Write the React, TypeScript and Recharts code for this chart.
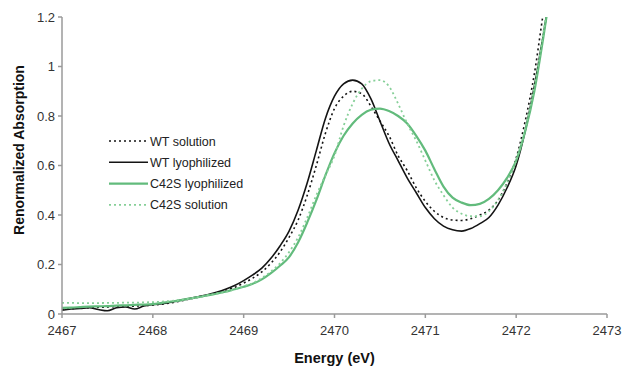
import React from 'react';
import { LineChart, Line, XAxis, YAxis, Legend } from 'recharts';

// energy grid (eV)
const energy: number[] = [
  2467.0, 2467.1, 2467.2, 2467.3, 2467.4, 2467.5, 2467.6, 2467.7, 2467.8, 2467.9,
  2468.0, 2468.1, 2468.2, 2468.3, 2468.4, 2468.5, 2468.6, 2468.7, 2468.8, 2468.9,
  2469.0, 2469.1, 2469.2, 2469.3, 2469.4, 2469.5, 2469.6, 2469.7, 2469.8, 2469.9,
  2470.0, 2470.1, 2470.2, 2470.3, 2470.4, 2470.5, 2470.6, 2470.7, 2470.8, 2470.9,
  2471.0, 2471.1, 2471.2, 2471.3, 2471.4, 2471.5, 2471.6, 2471.7, 2471.8, 2471.9,
  2472.0, 2472.1, 2472.2, 2472.3, 2472.4,
];

const wtSolution: number[] = [
  0.02, 0.022, 0.024, 0.026, 0.027, 0.028, 0.03, 0.031, 0.032, 0.034,
  0.036, 0.04, 0.045, 0.052, 0.06, 0.068, 0.076, 0.085, 0.095, 0.108,
  0.125, 0.145, 0.17, 0.205, 0.25, 0.31, 0.38, 0.48, 0.6, 0.73,
  0.83, 0.88, 0.9, 0.89, 0.84, 0.78, 0.72, 0.64, 0.58, 0.51,
  0.455, 0.415, 0.39, 0.38, 0.378, 0.385, 0.4, 0.42, 0.46, 0.53,
  0.63, 0.78, 0.97, 1.22, 1.45,
];

const wtLyophilized: number[] = [
  0.015, 0.02, 0.022, 0.025, 0.018, 0.013, 0.025, 0.028, 0.02, 0.032,
  0.038, 0.042, 0.048, 0.055, 0.062, 0.07, 0.078, 0.088, 0.1, 0.115,
  0.135, 0.158, 0.185, 0.225, 0.275, 0.335, 0.42, 0.53, 0.66, 0.79,
  0.88, 0.93, 0.945, 0.93, 0.87, 0.78, 0.69, 0.62, 0.55, 0.49,
  0.43, 0.385, 0.355, 0.34, 0.335, 0.345, 0.365, 0.39, 0.44, 0.51,
  0.6, 0.74, 0.92, 1.13, 1.35,
];

const c42sLyophilized: number[] = [
  0.025, 0.026, 0.028, 0.03, 0.031, 0.032, 0.034, 0.035, 0.037, 0.038,
  0.04, 0.045, 0.05, 0.055, 0.062, 0.068, 0.075, 0.082, 0.09, 0.1,
  0.11, 0.122, 0.14, 0.165, 0.195, 0.23, 0.29, 0.37, 0.46, 0.56,
  0.65, 0.72, 0.77, 0.805, 0.825, 0.83, 0.82, 0.8, 0.77, 0.72,
  0.66, 0.585, 0.515, 0.47, 0.45, 0.44, 0.445, 0.465, 0.5, 0.55,
  0.62, 0.74, 0.9, 1.12, 1.36,
];

const c42sSolution: number[] = [
  0.045, 0.045, 0.044, 0.044, 0.044, 0.045, 0.045, 0.046, 0.046, 0.047,
  0.048, 0.05, 0.053, 0.057, 0.062, 0.068, 0.075, 0.082, 0.09, 0.1,
  0.112, 0.125, 0.145, 0.172, 0.205, 0.25, 0.31, 0.39, 0.48, 0.56,
  0.64, 0.76, 0.85, 0.91, 0.94, 0.945, 0.92, 0.85, 0.77, 0.7,
  0.62, 0.54, 0.48, 0.43, 0.405, 0.395, 0.395, 0.415, 0.46, 0.53,
  0.62, 0.75, 0.92, 1.14, 1.38,
];

const xTicks = [2467, 2468, 2469, 2470, 2471, 2472, 2473];
const yTicks = [0, 0.2, 0.4, 0.6, 0.8, 1, 1.2];

const data = energy.map((e, i) => ({
  energy: e,
  wtSolution: wtSolution[i],
  wtLyophilized: wtLyophilized[i],
  c42sLyophilized: c42sLyophilized[i],
  c42sSolution: c42sSolution[i],
}));

const BLACK = '#141414';
const GREEN = '#62bb7c';
const LIGHT_GREEN = '#86cf98';

const series = [
  { key: 'wtSolution', name: 'WT solution', color: BLACK, width: 1.6, dash: '2 3' },
  { key: 'wtLyophilized', name: 'WT lyophilized', color: BLACK, width: 1.6, dash: undefined },
  { key: 'c42sLyophilized', name: 'C42S lyophilized', color: GREEN, width: 2.2, dash: undefined },
  { key: 'c42sSolution', name: 'C42S solution', color: LIGHT_GREEN, width: 1.8, dash: '2 3' },
];

const font = 'Arial, "Liberation Sans", sans-serif';

const LegendBox = () => (
  <svg width={140} height={90} style={{ display: 'block' }}>
    {series.map((s, i) => {
      const y = 9 + i * 21.3;
      return (
        <g key={s.key}>
          <line x1={4} x2={43} y1={y} y2={y} stroke={s.color} strokeWidth={s.width} strokeDasharray={s.dash} />
          <text x={45} y={y + 4.5} fontSize={12.5} fontFamily={font} fill="#222">{s.name}</text>
        </g>
      );
    })}
  </svg>
);

// y title sits a bit above the plot centre, like the original
const YTitle = () => (
  <text
    x={19}
    y={150}
    transform="rotate(-90, 19, 150)"
    textAnchor="middle"
    dominantBaseline="central"
    fontSize={14}
    fontWeight="bold"
    fontFamily={font}
    fill="#111"
  >
    Renormalized Absorption
  </text>
);

export default function App() {
  return (
    <div style={{ position: 'absolute', left: 0, top: 0, background: '#fff' }}>
      <LineChart width={623} height={366} data={data} margin={{ top: 17, right: 16, bottom: 0, left: 0 }}>
        <XAxis
          dataKey="energy"
          type="number"
          domain={[2467, 2473]}
          ticks={xTicks}
          height={52}
          stroke="#9a9a9a"
          strokeWidth={1.5}
          tickSize={4}
          tickMargin={8}
          tick={{ fill: '#333', fontSize: 13, fontFamily: font }}
          label={{ value: 'Energy (eV)', position: 'insideBottom', offset: 3, style: { fill: '#111', fontSize: 14.5, fontWeight: 'bold', fontFamily: font } }}
        />
        <YAxis
          type="number"
          domain={[0, 1.2]}
          ticks={yTicks}
          allowDataOverflow
          width={62}
          stroke="#9a9a9a"
          strokeWidth={1.5}
          tickSize={4}
          tickMargin={3}
          tick={{ fill: '#333', fontSize: 13, fontFamily: font }}
          label={{ content: () => <YTitle /> }}
        />
        <Legend
          layout="horizontal"
          verticalAlign="middle"
          align="center"
          content={() => <LegendBox />}
          wrapperStyle={{ left: 105, top: 132, width: 140 }}
        />
        {series.map((s) => (
          <Line
            key={s.key}
            type="monotone"
            dataKey={s.key}
            name={s.name}
            stroke={s.color}
            strokeWidth={s.width}
            strokeDasharray={s.dash}
            dot={false}
            activeDot={false}
            isAnimationActive={false}
          />
        ))}
      </LineChart>
    </div>
  );
}
